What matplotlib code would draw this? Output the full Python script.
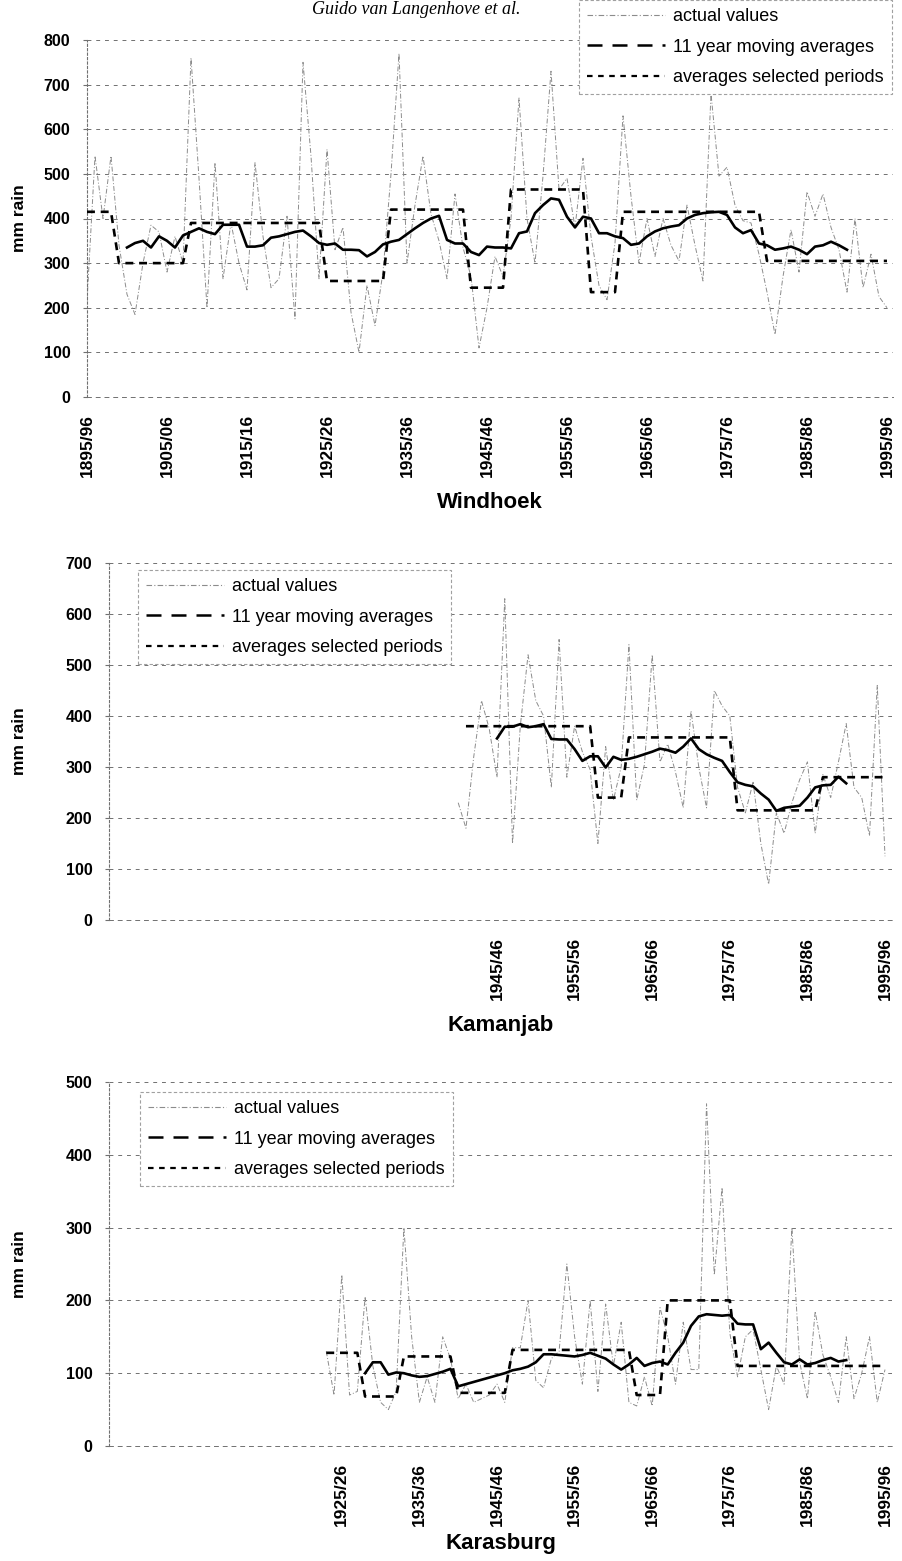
import numpy as np
import matplotlib
matplotlib.use("Agg")
import matplotlib.pyplot as plt
from matplotlib.lines import Line2D

plt.rcParams['font.family'] = ['Liberation Sans', 'DejaVu Sans']

W, H = 902, 1561

# ---- Windhoek (year index 0 = 1895/96) ----
wdh_start = 0
wdh_actual = [215, 540, 400, 540, 340, 230, 185, 300, 385, 370,
              280, 360, 300, 760, 490, 200, 525, 265, 390, 300,
              240, 525, 360, 245, 265, 405, 175, 750, 540, 265,
              555, 330, 380, 190, 100, 250, 160, 280, 500, 770,
              300, 430, 540, 410, 350, 265, 455, 335, 270, 110,
              200, 315, 270, 400, 670, 400, 300, 495, 730, 465,
              490, 380, 535, 360, 250, 218, 345, 630, 450, 300,
              400, 315, 400, 340, 305, 430, 340, 260, 680, 495,
              515, 430, 395, 390, 320, 235, 140, 270, 375, 280,
              460, 405, 455, 380, 330, 235, 400, 245, 320, 225, 200]
wdh_ma_start = 5
wdh_ma = [335, 345, 350, 335, 360, 350, 335, 362, 370, 378,
          370, 365, 386, 386, 386, 337, 337, 340, 357, 360,
          365, 370, 373, 360, 345, 341, 344, 330, 330, 329,
          315, 325, 342, 348, 352, 365, 378, 390, 400, 406,
          352, 344, 344, 325, 318, 337, 335, 335, 333, 367,
          371, 412, 430, 445, 442, 404, 380, 404, 400, 367,
          367, 360, 356, 341, 344, 360, 371, 378, 382, 385,
          400, 408, 412, 414, 415, 408, 380, 367, 374, 344,
          340, 330, 333, 337, 330, 320, 337, 340, 348, 340, 330]
wdh_per_from = [0, 4, 13, 30, 38, 48, 53, 63, 67, 85]
wdh_per_to = [3, 12, 29, 37, 47, 52, 62, 66, 84, 100]
wdh_per_val = [415, 300, 390, 260, 420, 245, 465, 235, 415, 305]

# ---- Kamanjab ----
kam_start = 45
kam_actual = [230, 180, 320, 430, 375, 280, 630, 150, 380, 520,
              430, 400, 260, 550, 280, 380, 330, 295, 150, 340,
              235, 300, 540, 235, 305, 520, 310, 345, 290, 220,
              410, 300, 220, 450, 420, 400, 260, 210, 270, 150,
              70, 210, 170, 230, 275, 310, 170, 285, 240, 310,
              385, 260, 240, 165, 460, 125]
kam_ma_start = 50
kam_ma = [356, 379, 379, 384, 378, 380, 384, 355, 354, 354,
          335, 312, 321, 321, 299, 320, 314, 316, 320, 325,
          330, 336, 333, 328, 340, 356, 335, 325, 318, 312,
          290, 270, 265, 262, 248, 236, 214, 220, 222, 224,
          240, 260, 264, 265, 281, 268]
kam_per_from = [46, 63, 67, 81, 92]
kam_per_to = [62, 66, 80, 91, 100]
kam_per_val = [380, 240, 358, 215, 280]

# ---- Karasburg ----
kar_start = 28
kar_actual = [130, 70, 235, 70, 75, 205, 110, 60, 50, 75,
              300, 150, 60, 95, 60, 150, 120, 65, 85, 60,
              65, 70, 85, 60, 135, 135, 200, 90, 80, 120,
              130, 250, 150, 85, 200, 75, 195, 110, 170, 60,
              55, 95, 55, 190, 150, 85, 170, 105, 105, 470,
              235, 355, 155, 95, 150, 160, 105, 50, 110, 85,
              300, 115, 65, 185, 125, 95, 60, 150, 65, 100,
              150, 60, 105]
kar_ma_start = 33
kar_ma = [100, 115, 115, 98, 101, 100, 97, 95, 96, 99,
          102, 106, 82, 85, 88, 91, 94, 97, 100, 104,
          106, 109, 115, 126, 126, 125, 124, 123, 125, 128,
          124, 120, 112, 105, 112, 121, 110, 114, 116, 112,
          128, 142, 165, 178, 181, 180, 179, 180, 168, 167,
          167, 133, 142, 128, 115, 112, 119, 112, 114, 118,
          121, 116, 118]
kar_per_from = [28, 33, 38, 45, 52, 68, 72, 81]
kar_per_to = [32, 37, 44, 51, 67, 71, 80, 100]
kar_per_val = [128, 68, 123, 73, 132, 70, 200, 110]

season_labels = ["%d/%02d" % (y, (y + 1) % 100) for y in range(1895, 1996)]
legend_labels = ['actual values', '11 year moving averages',
                 'averages selected periods']

fig = plt.figure(figsize=(W / 100, H / 100), dpi=100)

GREY = '#707070'
ACT = '#8c8c8c'


def px_axes(l, t, r, b):
    return fig.add_axes([l / W, 1 - b / H, (r - l) / W, (b - t) / H])


def steps(p_from, p_to, p_val):
    xs, ys = [], []
    for a, b, v in zip(p_from, p_to, p_val):
        xs += [a, b]
        ys += [v, v]
    return xs, ys


def panel(box, xmax, ymax, start, actual, ma_start, ma, pf, pt, pv,
          first_label, title, title_y, legend_at, legend_loc):
    ax = px_axes(*box)
    x = np.arange(start, start + len(actual))
    ax.plot(x, actual, color=ACT, lw=0.7, ls=(0, (5, 2, 1, 2)), zorder=2)
    xm = np.arange(ma_start, ma_start + len(ma))
    ax.plot(xm, ma, color='black', lw=1.9, zorder=4)
    sx, sy = steps(pf, pt, pv)
    ax.plot(sx, sy, color='black', lw=1.9, ls=(0, (3, 2.2)), zorder=3)

    ax.set_xlim(0, xmax)
    ax.set_ylim(0, ymax)
    ax.set_yticks(range(0, ymax + 1, 100))
    ax.set_yticklabels([str(v) for v in range(0, ymax + 1, 100)],
                       fontsize=11.5, fontweight='bold')
    ticks = list(range(first_label, 101, 10))
    ax.set_xticks(ticks)
    ax.set_xticklabels([season_labels[t] for t in ticks], rotation=90,
                       fontsize=12.5, fontweight='bold')
    ax.tick_params(axis='x', length=0, pad=12)
    ax.tick_params(axis='y', length=3, color=GREY, pad=9)
    ax.grid(axis='y', color=GREY, lw=0.7, ls=(0, (4, 5)))
    for s in ['top', 'right']:
        ax.spines[s].set_visible(False)
    ax.spines['left'].set_color(GREY)
    ax.spines['left'].set_linestyle((0, (2, 2)))
    ax.spines['left'].set_linewidth(0.8)
    ax.spines['bottom'].set_color(GREY)
    ax.spines['bottom'].set_linestyle((0, (4, 5)))
    ax.spines['bottom'].set_linewidth(0.7)

    fig.text(20 / W, 1 - (box[1] + box[3]) / 2 / H, 'mm rain', rotation=90,
             ha='center', va='center', fontsize=12.5, fontweight='bold')

    handles = [
        Line2D([], [], color=ACT, lw=0.8, ls=(0, (5, 2, 1, 2))),
        Line2D([], [], color='black', lw=1.8, ls=(0, (6, 4))),
        Line2D([], [], color='black', lw=1.6, ls=(0, (2.5, 2.5))),
    ]
    leg = ax.legend(handles, legend_labels, loc=legend_loc,
                    bbox_to_anchor=(legend_at[0] / W, 1 - legend_at[1] / H),
                    bbox_transform=fig.transFigure, fontsize=13,
                    handlelength=4.3, handletextpad=0.45, labelspacing=0.75,
                    borderaxespad=0, borderpad=0.45, fancybox=False,
                    framealpha=1)
    leg.get_frame().set_edgecolor('#a0a0a0')
    leg.get_frame().set_linewidth(0.8)
    leg.get_frame().set_linestyle((0, (3, 2)))
    leg.set_zorder(5)

    cx = (box[0] + box[2]) / 2
    fig.text(cx / W, 1 - title_y / H, title, ha='center', va='center',
             fontsize=16, fontweight='bold')
    return ax


panel((87, 40, 893, 397), 100.75, 800, wdh_start, wdh_actual, wdh_ma_start,
      wdh_ma, wdh_per_from, wdh_per_to, wdh_per_val, 0, 'Windhoek', 502,
      (892, 0), 'upper right')
panel((109, 563, 892, 920), 100.9, 700, kam_start, kam_actual, kam_ma_start,
      kam_ma, kam_per_from, kam_per_to, kam_per_val, 50, 'Kamanjab', 1025,
      (138, 570), 'upper left')
panel((109, 1082, 892, 1446), 100.9, 500, kar_start, kar_actual, kar_ma_start,
      kar_ma, kar_per_from, kar_per_to, kar_per_val, 30, 'Karasburg', 1543,
      (140, 1092), 'upper left')

fig.text(416 / W, 1 - 9 / H, 'Guido van Langenhove et al.', ha='center',
         va='center', fontsize=13, style='italic', family='Liberation Serif')

fig.savefig('out.png', dpi=100)
